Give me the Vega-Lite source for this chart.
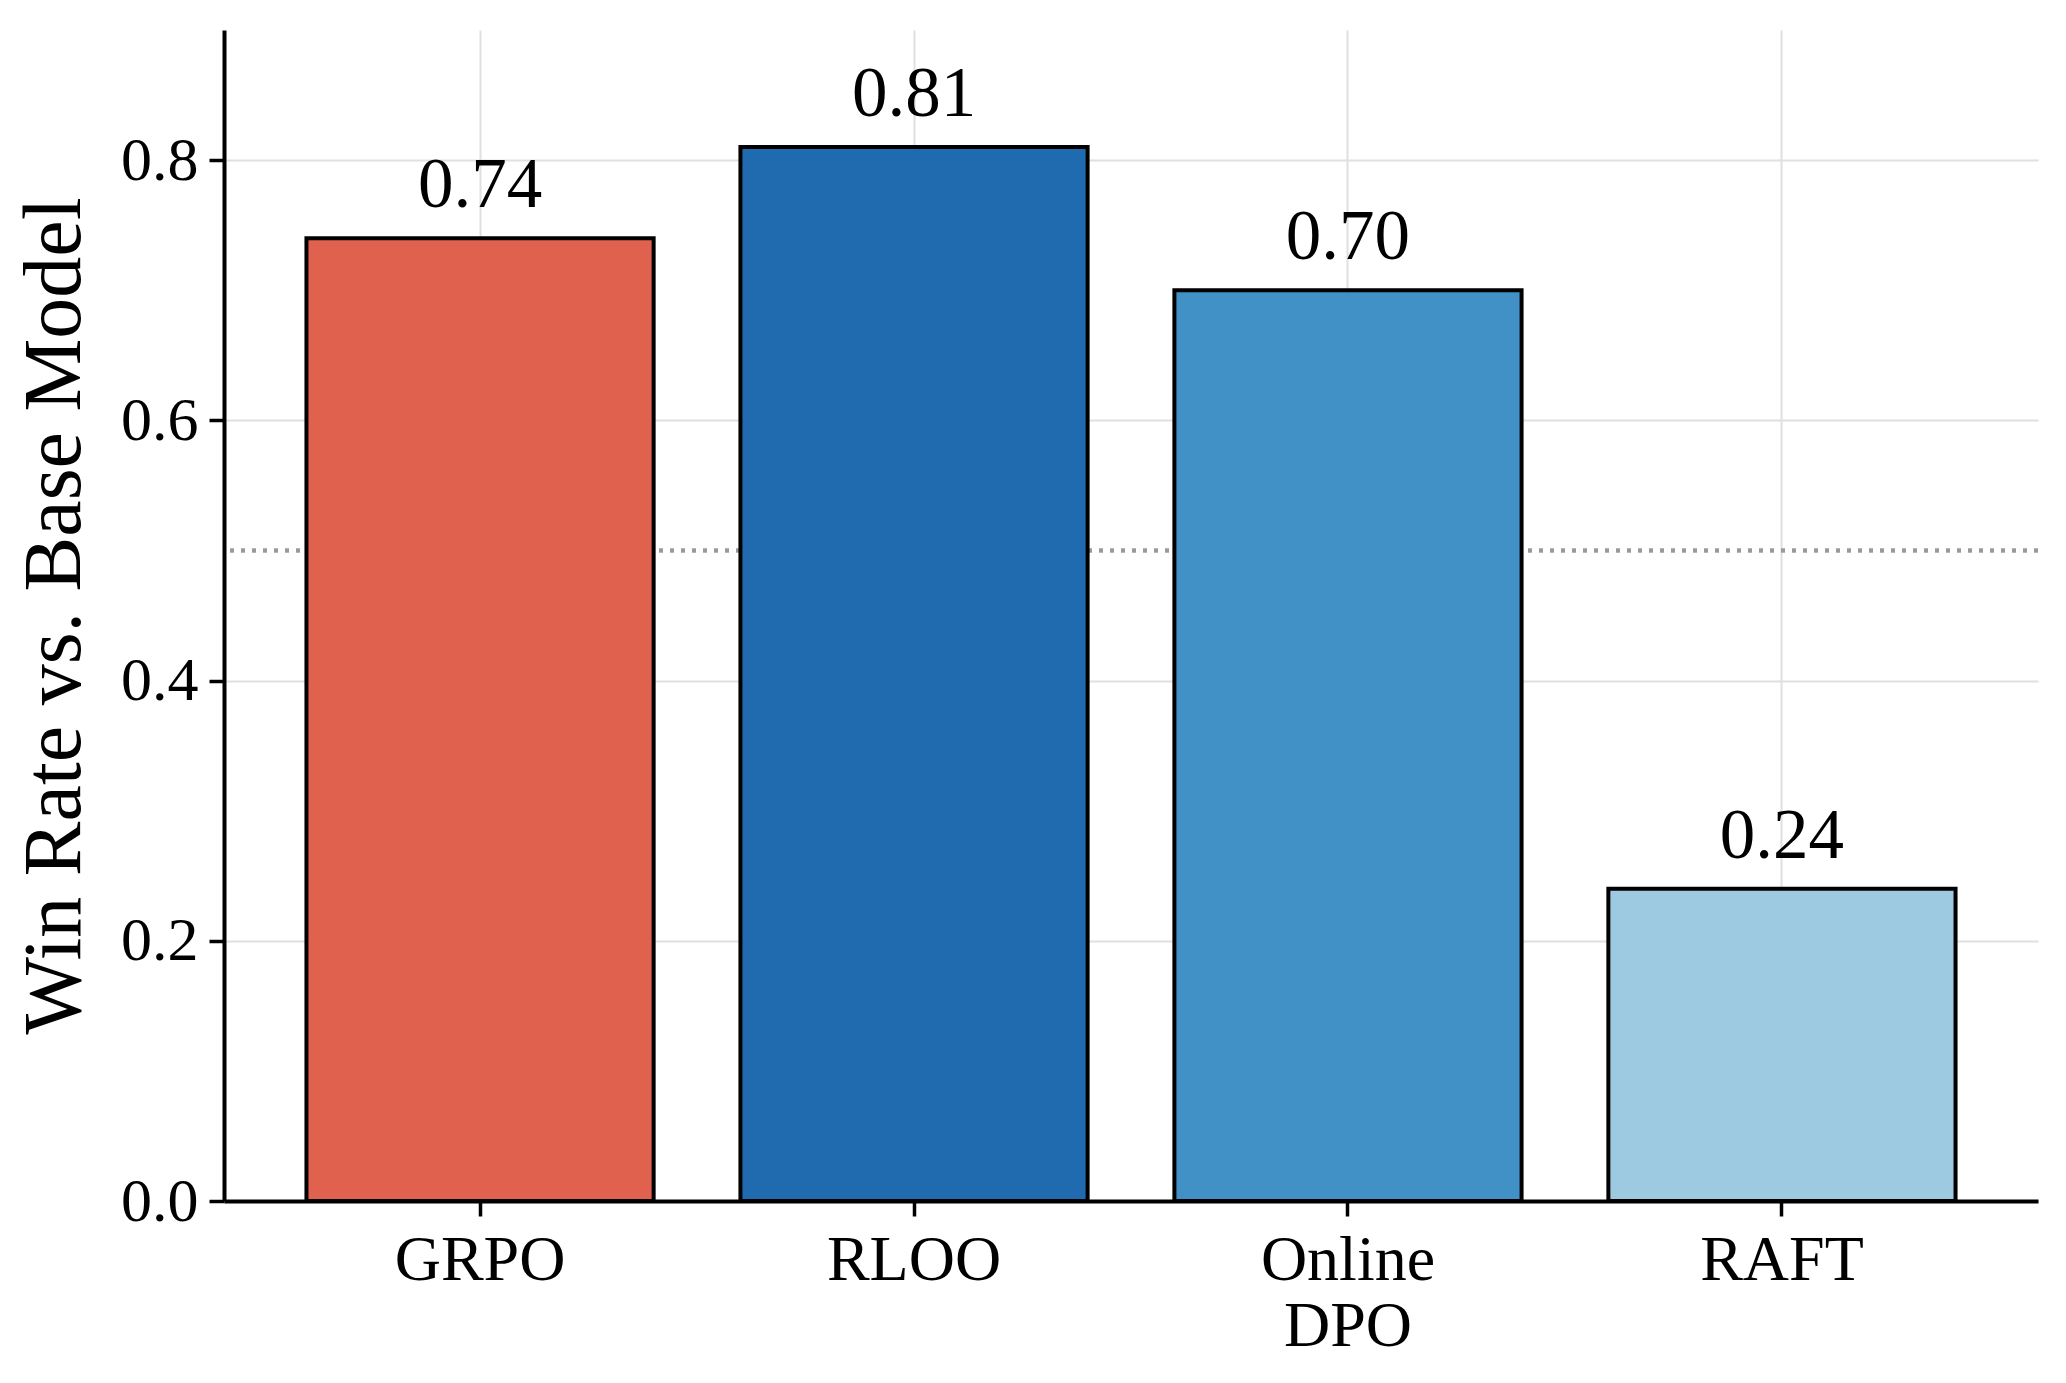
{
  "$schema": "https://vega.github.io/schema/vega-lite/v6.json",
  "autosize": "none",
  "width": 1814,
  "height": 1171,
  "padding": {"left": 224, "top": 30, "right": 28, "bottom": 182},
  "background": "white",
  "config": {
    "view": {"stroke": null},
    "font": "Liberation Serif",
    "axis": {
      "domainColor": "black",
      "domainWidth": 4,
      "tickColor": "black",
      "tickWidth": 3.5,
      "tickSize": 15,
      "labelColor": "black",
      "labelFont": "Liberation Serif",
      "titleFont": "Liberation Serif",
      "titleColor": "black",
      "gridColor": "#e0e0e0",
      "gridWidth": 2
    }
  },
  "data": {
    "values": [
      {"method": "GRPO", "win_rate": 0.74},
      {"method": "RLOO", "win_rate": 0.81},
      {"method": "Online DPO", "win_rate": 0.70},
      {"method": "RAFT", "win_rate": 0.24}
    ]
  },
  "encoding": {
    "x": {
      "field": "method",
      "type": "nominal",
      "sort": null,
      "scale": {"paddingInner": 0.2, "paddingOuter": 0.19},
      "axis": {
        "title": null,
        "grid": true,
        "bandPosition": 0.5,
        "labelAngle": 0,
        "labelFontSize": 64,
        "labelPadding": 12,
        "labelLineHeight": 66,
        "labelExpr": "split(datum.label, ' ')"
      }
    }
  },
  "layer": [
    {
      "mark": {"type": "rule", "color": "#999999", "strokeWidth": 3.5, "strokeDash": [4, 7]},
      "encoding": {"y": {"datum": 0.5, "type": "quantitative"}, "x": null}
    },
    {
      "mark": {"type": "bar", "stroke": "black", "strokeWidth": 4, "strokeJoin": "miter"},
      "encoding": {
        "y": {
          "field": "win_rate",
          "type": "quantitative",
          "scale": {"domain": [0, 0.9], "nice": false},
          "axis": {
            "title": "Win Rate vs. Base Model",
            "titleFontSize": 82,
            "titleFontWeight": "normal",
            "titlePadding": 24,
            "values": [0, 0.2, 0.4, 0.6, 0.8],
            "format": ".1f",
            "labelFontSize": 62,
            "labelPadding": 11,
            "grid": true
          }
        },
        "color": {
          "field": "method",
          "type": "nominal",
          "scale": {
            "domain": ["GRPO", "RLOO", "Online DPO", "RAFT"],
            "range": ["#e0614d", "#206bb0", "#4190c6", "#9ecae1"]
          },
          "legend": null
        }
      }
    },
    {
      "mark": {"type": "text", "baseline": "alphabetic", "align": "center", "dy": -31, "fontSize": 71, "color": "black"},
      "encoding": {
        "y": {"field": "win_rate", "type": "quantitative"},
        "text": {"field": "win_rate", "type": "quantitative", "format": ".2f"}
      }
    }
  ]
}
